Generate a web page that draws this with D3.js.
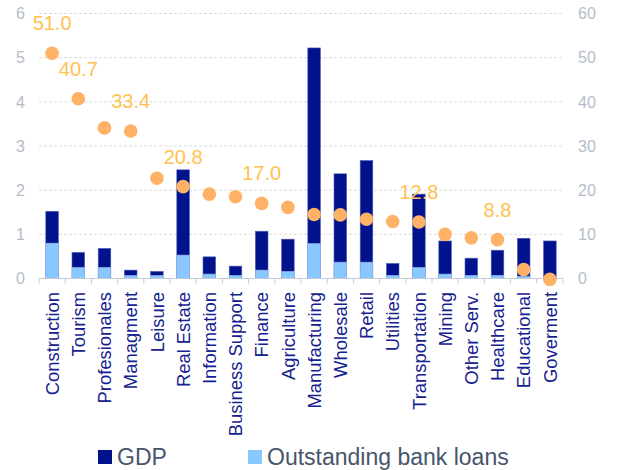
<!DOCTYPE html>
<html>
<head>
<meta charset="utf-8">
<script src="https://cdn.jsdelivr.net/npm/d3@7/dist/d3.min.js"></script>
<style>
  html, body { margin: 0; padding: 0; background: #fff; }
  svg { display: block; font-family: "Liberation Sans", Arial, sans-serif; }
</style>
</head>
<body>
<svg id="chart" width="627" height="470"></svg>
<script>
// Sectors, shares of GDP and of outstanding bank loans (left axis, %),
// and loan growth per sector (right axis, dots).
const categories = ["Construction", "Tourism", "Profesionales", "Managment", "Leisure",
  "Real Estate", "Information", "Business Support", "Finance", "Agriculture",
  "Manufacturing", "Wholesale", "Retail", "Utilities", "Transportation",
  "Mining", "Other Serv.", "Healthcare", "Educational", "Goverment"];
const gdp = [1.52, 0.59, 0.68, 0.19, 0.16, 2.46, 0.49, 0.28, 1.07, 0.89,
  5.22, 2.37, 2.67, 0.34, 1.91, 0.85, 0.46, 0.64, 0.91, 0.85];
const loans = [0.80, 0.25, 0.25, 0.07, 0.07, 0.53, 0.10, 0.07, 0.19, 0.16,
  0.79, 0.37, 0.37, 0.07, 0.25, 0.10, 0.07, 0.07, 0.05, 0.02];
const ratio = [51.0, 40.7, 34.1, 33.4, 22.7, 20.8, 19.1, 18.5, 17.0, 16.1,
  14.5, 14.4, 13.4, 12.9, 12.8, 10.0, 9.2, 8.8, 2.0, -0.2];
const labelled = ["Construction", "Tourism", "Managment", "Real Estate", "Finance", "Transportation", "Healthcare"];
const leftTicks = [0, 1, 2, 3, 4, 5, 6];
const rightTicks = [0, 10, 20, 30, 40, 50, 60];
const seriesNames = ["GDP", "Outstanding bank loans"];

const colors = { gdp: "#00128C", loans: "#88C8FF", dot: "#FFB266", dotLabel: "#FFC14F",
  axisText: "#B4BDCA", grid: "#DCDCDC", cat: "#15218F", legendText: "#47556B" };

const svg = d3.select("#chart");
const plot = { left: 39, right: 563, top: 13.5, bottom: 278.5 };

const x = d3.scaleBand().domain(categories).range([plot.left, plot.right]).padding(0);
const yL = d3.scaleLinear().domain([0, 6]).range([plot.bottom, plot.top]);
const yR = d3.scaleLinear().domain([0, 60]).range([plot.bottom, plot.top]);
const barW = x.bandwidth() * 0.48;

// dashed gridlines
svg.append("g")
  .selectAll("line").data(leftTicks.filter(d => d > 0)).join("line")
  .attr("x1", plot.left).attr("x2", plot.right)
  .attr("y1", d => yL(d)).attr("y2", d => yL(d))
  .attr("stroke", colors.grid).attr("stroke-width", 1).attr("stroke-dasharray", "3,2");

// left axis labels
svg.append("g")
  .selectAll("text").data(leftTicks).join("text")
  .attr("x", 25).attr("y", d => yL(d)).attr("dy", "0.36em")
  .attr("text-anchor", "end").attr("font-size", 16).attr("fill", colors.axisText)
  .text(d => d);

// right axis labels
svg.append("g")
  .selectAll("text").data(rightTicks).join("text")
  .attr("x", 578).attr("y", d => yR(d)).attr("dy", "0.36em")
  .attr("text-anchor", "start").attr("font-size", 16).attr("fill", colors.axisText)
  .text(d => d);

// GDP bars
svg.append("g")
  .selectAll("rect").data(categories).join("rect")
  .attr("x", d => x(d) + (x.bandwidth() - barW) / 2)
  .attr("width", barW)
  .attr("y", (d, i) => yL(gdp[i]))
  .attr("height", (d, i) => yL(0) - yL(gdp[i]))
  .attr("fill", colors.gdp).attr("stroke", "#4B5BB5").attr("stroke-width", 0.6);

// bank loan bars, drawn in front from the baseline
svg.append("g")
  .selectAll("rect").data(categories).join("rect")
  .attr("x", d => x(d) + (x.bandwidth() - barW) / 2)
  .attr("width", barW)
  .attr("y", (d, i) => yL(loans[i]))
  .attr("height", (d, i) => yL(0) - yL(loans[i]))
  .attr("fill", colors.loans).attr("stroke", "#9FB4E8").attr("stroke-width", 0.6);

// category axis: baseline and band-edge ticks
const axisG = svg.append("g");
axisG.append("line")
  .attr("x1", plot.left).attr("x2", plot.right)
  .attr("y1", plot.bottom).attr("y2", plot.bottom)
  .attr("stroke", "#C3CAD8").attr("stroke-width", 1.2);
axisG.selectAll("line.tick").data(categories.map(c => x(c)).concat([plot.right])).join("line")
  .attr("class", "tick")
  .attr("x1", d => d).attr("x2", d => d)
  .attr("y1", plot.bottom).attr("y2", plot.bottom + 5)
  .attr("stroke", "#C3CAD8").attr("stroke-width", 1);

// rotated category labels
svg.append("g")
  .selectAll("text").data(categories).join("text")
  .attr("transform", d => `translate(${x(d) + x.bandwidth() / 2},292) rotate(-90)`)
  .attr("dy", "0.36em")
  .attr("text-anchor", "end").attr("font-size", 18.4).attr("fill", colors.cat)
  .text(d => d);

// dots on the right scale
svg.append("g")
  .selectAll("circle").data(categories).join("circle")
  .attr("cx", d => x(d) + x.bandwidth() / 2)
  .attr("cy", (d, i) => yR(ratio[i]))
  .attr("r", 6.8)
  .attr("fill", colors.dot);

// value labels on selected dots
svg.append("g")
  .selectAll("text").data(categories.filter(c => labelled.includes(c))).join("text")
  .attr("x", d => x(d) + x.bandwidth() / 2)
  .attr("y", d => yR(ratio[categories.indexOf(d)]) - 23)
  .attr("text-anchor", "middle").attr("font-size", 20).attr("fill", colors.dotLabel)
  .text(d => ratio[categories.indexOf(d)].toFixed(1));

// legend
const legend = svg.append("g");
const legendItems = [
  { name: seriesNames[0], color: colors.gdp, x: 98 },
  { name: seriesNames[1], color: colors.loans, x: 248 }
];
legendItems.forEach(item => {
  legend.append("rect")
    .attr("x", item.x).attr("y", 450).attr("width", 14).attr("height", 14)
    .attr("fill", item.color);
  legend.append("text")
    .attr("x", item.x + 19).attr("y", 464.5)
    .attr("font-size", 23).attr("fill", colors.legendText)
    .text(item.name);
});
</script>
</body>
</html>
